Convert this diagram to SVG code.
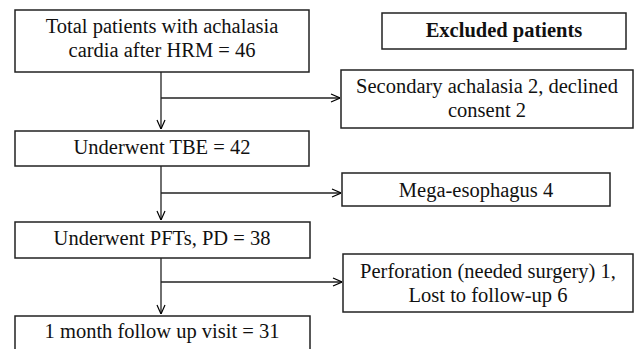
<svg xmlns="http://www.w3.org/2000/svg" width="635" height="349" viewBox="0 0 635 349">
<defs>
<marker id="ah" viewBox="0 0 10 10" refX="10" refY="5" markerWidth="10" markerHeight="10" markerUnits="userSpaceOnUse" orient="auto">
<path d="M1,1 L10,5 L1,9" fill="none" stroke="#000" stroke-width="1.2"/>
</marker>
<style>
rect{fill:#fff;stroke:#222;stroke-width:1.5}
text{font-family:"Liberation Serif","Times New Roman",serif;font-size:20.5px;fill:#111;text-anchor:middle}
.b{font-weight:bold}
.c line{stroke:#222;stroke-width:1.3}
</style>
</defs>
<rect x="0" y="0" width="635" height="349" style="stroke:none"/>
<g id="n1"><rect x="15" y="10" width="294" height="62"/><text x="162" y="33">Total patients with achalasia</text><text x="162" y="57">cardia after HRM = 46</text></g>
<g id="n2"><rect x="15" y="131" width="294" height="35"/><text x="162" y="154">Underwent TBE = 42</text></g>
<g id="n3"><rect x="15" y="222" width="295" height="36"/><text x="162" y="245">Underwent PFTs, PD = 38</text></g>
<g id="n4"><rect x="15" y="316" width="295" height="40"/><text x="162" y="338">1 month follow up visit = 31</text></g>
<g id="hdr"><rect x="382" y="13" width="244" height="36"/><text class="b" x="504" y="37">Excluded patients</text></g>
<g id="e1"><rect x="341" y="70" width="292" height="58"/><text x="487" y="93">Secondary achalasia 2, declined</text><text x="487" y="117">consent 2</text></g>
<g id="e2"><rect x="342" y="173" width="268" height="33"/><text x="476" y="197">Mega-esophagus 4</text></g>
<g id="e3"><rect x="343" y="254" width="290" height="58"/><text x="488" y="278">Perforation (needed surgery) 1,</text><text x="488" y="302">Lost to follow-up 6</text></g>
<g id="connectors" class="c">
<line x1="161" y1="72" x2="161" y2="129" marker-end="url(#ah)"/>
<line x1="161" y1="98" x2="340" y2="98" marker-end="url(#ah)"/>
<line x1="161" y1="166" x2="161" y2="220" marker-end="url(#ah)"/>
<line x1="161" y1="193" x2="341" y2="193" marker-end="url(#ah)"/>
<line x1="161" y1="258" x2="161" y2="314" marker-end="url(#ah)"/>
<line x1="161" y1="282" x2="342" y2="282" marker-end="url(#ah)"/>
</g>
</svg>
